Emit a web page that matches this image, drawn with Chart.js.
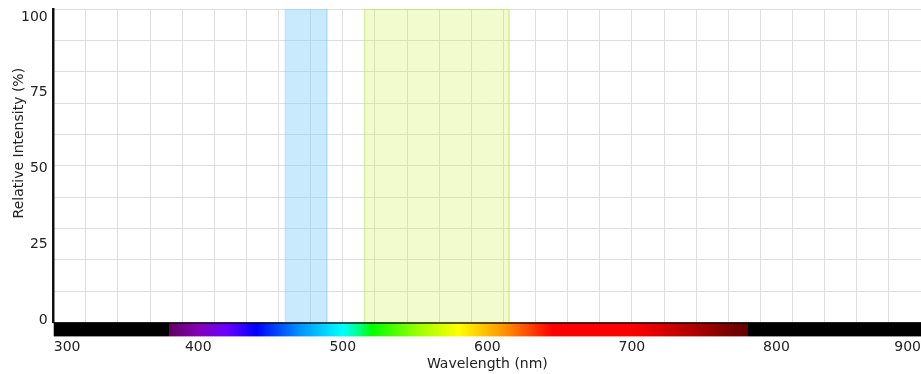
<!DOCTYPE html>
<html>
<head>
<meta charset="utf-8">
<script src="https://cdn.jsdelivr.net/npm/chart.js@4/dist/chart.umd.min.js"></script>
<style>
  html, body { margin: 0; padding: 0; background: #ffffff; }
  #wrap { width: 921px; height: 374px; }
</style>
</head>
<body>
<div id="wrap"><canvas id="c" width="921" height="374"></canvas></div>
<script>
// Wavelength axis (nm)
const xMin = 300;
const xMax = 900;
const xTickLabels = [300, 400, 500, 600, 700, 800, 900];
const xGridDivisions = 27;

// Relative intensity axis (%)
const yMin = 0;
const yMax = 100;
const yTickLabels = [0, 25, 50, 75, 100];
const yGridStep = 10;

// Shaded pass bands, nm
const blueBand = [460, 489];
const yellowBand = [515, 615];

// Visible spectrum strip under the plot: wavelength stops and their colours
const spectrumNm     = [379.9,     380,       400,       420,       440,       470,       500,       510,       520,       550,       580,       612,       645,       700,       740,       780,       780.1];
const spectrumColors = ['#000000', '#610061', '#8300b5', '#6a00ff', '#0000ff', '#0092ff', '#00ffff', '#00ff92', '#00ff00', '#92ff00', '#ffff00', '#ff9200', '#ff0000', '#ff0000', '#b50000', '#610000', '#000000'];

const FONT = '"DejaVu Sans", Verdana, sans-serif';
const TEXT = '#222222';
const GRID = '#dedede';

Chart.defaults.font.family = FONT;
Chart.defaults.font.size = 14;
Chart.defaults.color = TEXT;

function bandOutline(range) {
  return [
    { x: range[0], y: yMin },
    { x: range[0], y: yMax },
    { x: range[1], y: yMax },
    { x: range[1], y: yMin }
  ];
}

// Edge labels stay inside the canvas, so no extra room is reserved for them
function noEdgePadding(s) {
  s.paddingLeft = 0;
  s.paddingRight = 0;
  s.paddingTop = 0;
  s.paddingBottom = 0;
}

// Coloured wavelength strip drawn just below the plot area
const spectrumStrip = {
  id: 'spectrumStrip',
  afterDraw(chart) {
    const { ctx, chartArea } = chart;
    const xs = chart.scales.x;
    const left = xs.getPixelForValue(xMin);
    const right = xs.getPixelForValue(xMax);
    const top = chartArea.bottom;
    const h = 14;
    const g = ctx.createLinearGradient(left, 0, right, 0);
    spectrumNm.forEach((nm, i) => {
      const t = (xs.getPixelForValue(nm) - left) / (right - left);
      g.addColorStop(Math.min(1, Math.max(0, t)), spectrumColors[i]);
    });
    ctx.save();
    ctx.fillStyle = g;
    ctx.fillRect(left, top, right - left, h);
    ctx.strokeStyle = 'rgba(0,0,0,0.85)';
    ctx.lineWidth = 1.5;
    ctx.beginPath();
    ctx.moveTo(left, top + 0.5);
    ctx.lineTo(right, top + 0.5);
    ctx.stroke();
    ctx.restore();
  }
};

// Rotated y-axis caption
const yCaption = {
  id: 'yCaption',
  afterDraw(chart) {
    const { ctx, chartArea } = chart;
    ctx.save();
    ctx.translate(19, chartArea.top + (chartArea.bottom - chartArea.top) * 0.428);
    ctx.rotate(-Math.PI / 2);
    ctx.font = '14px ' + FONT;
    ctx.fillStyle = TEXT;
    ctx.textAlign = 'center';
    ctx.textBaseline = 'middle';
    ctx.fillText('Relative Intensity (%)', 0, 0);
    ctx.restore();
  }
};

new Chart(document.getElementById('c'), {
  type: 'line',
  data: {
    datasets: [
      {
        data: bandOutline(blueBand),
        fill: 'origin',
        backgroundColor: 'rgba(135,206,250,0.45)',
        borderColor: 'rgba(135,206,250,0.35)',
        borderWidth: 1,
        pointRadius: 0,
        tension: 0
      },
      {
        data: bandOutline(yellowBand),
        fill: 'origin',
        backgroundColor: 'rgba(200,240,60,0.25)',
        borderColor: 'rgba(190,225,90,0.55)',
        borderWidth: 1.5,
        pointRadius: 0,
        tension: 0
      }
    ]
  },
  options: {
    responsive: false,
    animation: false,
    devicePixelRatio: 1,
    layout: { padding: { left: 21, top: 9, right: 0, bottom: 0 } },
    plugins: {
      legend: { display: false },
      tooltip: { enabled: false }
    },
    scales: {
      x: {
        type: 'linear',
        position: 'bottom',
        min: xMin,
        max: xMax,
        afterBuildTicks: (s) => {
          s.ticks = Array.from({ length: xGridDivisions + 1 },
            (_, i) => ({ value: xMin + i * (xMax - xMin) / xGridDivisions }));
        },
        afterFit: noEdgePadding,
        ticks: { display: false },
        grid: { color: GRID, lineWidth: 1, drawTicks: false },
        border: { display: false }
      },
      xLabels: {
        type: 'linear',
        position: 'bottom',
        min: xMin,
        max: xMax,
        afterBuildTicks: (s) => { s.ticks = xTickLabels.map(v => ({ value: v })); },
        afterFit: (s) => {
          noEdgePadding(s);
          // tick padding is only wanted above the labels
          s.height -= s.options.ticks.padding;
        },
        ticks: { align: 'inner', padding: 17, maxRotation: 0, autoSkip: false, color: TEXT, font: { size: 14 } },
        grid: { display: false, drawTicks: false },
        border: { display: false },
        title: { display: true, text: 'Wavelength (nm)', color: TEXT, font: { size: 14 }, padding: { top: 0, bottom: 1 } }
      },
      y: {
        type: 'linear',
        position: 'left',
        min: yMin,
        max: yMax,
        afterFit: noEdgePadding,
        ticks: { display: false, stepSize: yGridStep },
        grid: { color: GRID, lineWidth: 1, drawTicks: false },
        border: { display: true, color: '#111111', width: 2.5 }
      },
      yLabels: {
        type: 'linear',
        position: 'left',
        min: -0.8,
        max: 102.6,
        afterBuildTicks: (s) => { s.ticks = yTickLabels.map(v => ({ value: v })); },
        afterFit: (s) => {
          noEdgePadding(s);
          // tick padding is only wanted between the labels and the axis line
          s.width -= s.options.ticks.padding;
        },
        ticks: { padding: 6, color: TEXT, font: { size: 14 } },
        grid: { display: false, drawTicks: false },
        border: { display: false }
      }
    }
  },
  plugins: [spectrumStrip, yCaption]
});
</script>
</body>
</html>
